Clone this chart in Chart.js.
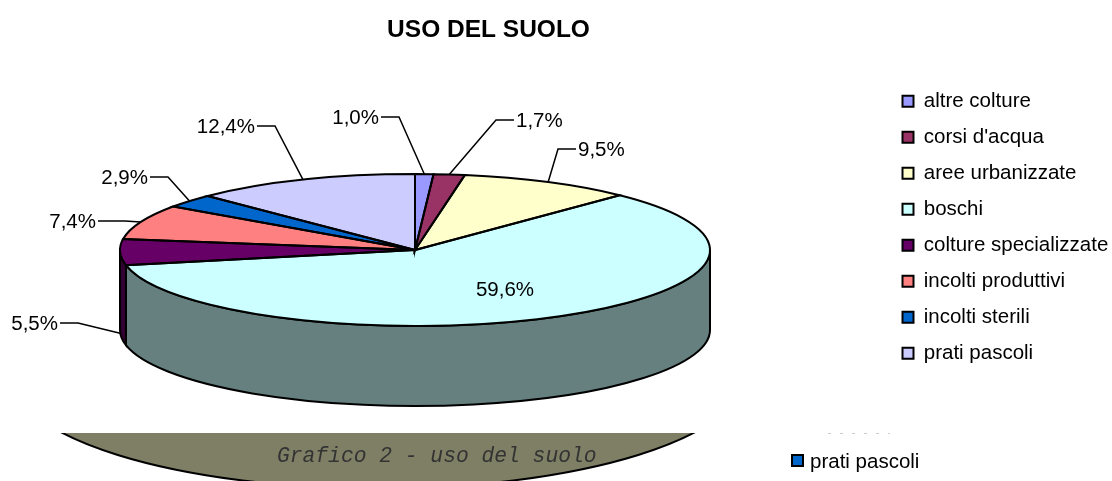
<!DOCTYPE html>
<html lang="it">
<head>
    <meta charset="UTF-8">
    <title>Uso del suolo</title>
    <script src="https://cdn.jsdelivr.net/npm/chart.js"></script>
    <style>
        html, body { margin: 0; padding: 0; background: white; }
        canvas { display: block; }
    </style>
</head>
<body>
    <canvas id="pieChart" width="1112" height="481"></canvas>
    <script>
        const categories = ["altre colture", "corsi d'acqua", "aree urbanizzate", "boschi", "colture specializzate", "incolti produttivi", "incolti sterili", "prati pascoli"];
        const percentages = [1.0, 1.7, 9.5, 59.6, 5.5, 7.4, 2.9, 12.4];
        const sliceColors = ["#9999ff", "#993366", "#ffffcc", "#ccffff", "#660066", "#ff8080", "#0066cc", "#ccccff"];
        const wallColors = ["#4d4d80", "#4d1a33", "#808066", "#668080", "#330033", "#804040", "#003366", "#666680"];

        // where each percentage label sits: elbow of the leader line, and text side
        const labelLayout = [
            { elbow: [399, 117], side: "left" },
            { elbow: [496, 120], side: "right" },
            { elbow: [558, 149], side: "right" },
            { center: [505, 289] },
            { elbow: [78, 323], side: "left", drop: 81 },
            { elbow: [125, 221], side: "left", stub: 27 },
            { elbow: [168, 177], side: "left" },
            { elbow: [275, 126], side: "left" },
        ];

        const FONT = "'Liberation Sans', Arial, sans-serif";
        const CENTER_X = 415, CENTER_Y = 250;
        const RADIUS = 295, SQUASH = 76 / 295, DEPTH = 80;

        const formatPct = (v) => v.toFixed(1).replace(".", ",") + "%";

        // lays the boxes out where the reference has them
        const placement = {
            id: "placement",
            afterLayout(chart) {
                const area = chart.chartArea;
                area.left = CENTER_X - 300;
                area.right = CENTER_X + 300;
                area.top = CENTER_Y - 100;
                area.bottom = CENTER_Y + 100;
                area.width = 600;
                area.height = 200;

                chart.titleBlock.left = 0;
                chart.titleBlock.right = 977;
                chart.titleBlock.top = 16;

                chart.legend.left = 887;
                chart.legend.top = 75.5;
            },
        };

        const pie3d = {
            id: "pie3d",
            beforeDatasetsDraw(chart) {
                const ctx = chart.ctx;
                const arcs = chart.getDatasetMeta(0).data;

                // leftover picture strip under the chart
                ctx.save();
                ctx.beginPath();
                ctx.rect(0, 433, 1112, 48);
                ctx.clip();
                ctx.beginPath();
                ctx.ellipse(378, 374, 368, 114.5, 0, 0, Math.PI * 2);
                ctx.fillStyle = "#7f7f66";
                ctx.fill();
                ctx.lineWidth = 2;
                ctx.strokeStyle = "#000";
                ctx.stroke();
                ctx.restore();

                ctx.fillStyle = "#333";
                ctx.font = "italic 21.3px 'Liberation Mono', monospace";
                ctx.textAlign = "left";
                ctx.textBaseline = "alphabetic";
                ctx.fillText("Grafico 2 - uso del suolo", 277, 462);

                ctx.fillStyle = "#0066cc";
                ctx.strokeStyle = "#000";
                ctx.lineWidth = 2;
                ctx.fillRect(792, 455, 11, 11);
                ctx.strokeRect(792, 455, 11, 11);
                ctx.fillStyle = "#000";
                ctx.font = "20.5px " + FONT;
                ctx.fillText(categories[7], 810, 468);

                ctx.save();
                ctx.strokeStyle = "#ccc";
                ctx.lineWidth = 1;
                ctx.setLineDash([3, 9]);
                ctx.beginPath();
                ctx.moveTo(828, 433.5);
                ctx.lineTo(890, 433.5);
                ctx.stroke();
                ctx.restore();

                // side wall, only the front half of the rim shows
                arcs.forEach((arc, i) => {
                    const { x, y, startAngle, endAngle, outerRadius } = arc;
                    const a0 = Math.max(startAngle, 0);
                    const a1 = Math.min(endAngle, Math.PI);
                    if (a1 <= a0) return;
                    const ry = outerRadius * SQUASH;
                    ctx.beginPath();
                    ctx.ellipse(x, y, outerRadius, ry, 0, a0, a1);
                    ctx.ellipse(x, y + DEPTH, outerRadius, ry, 0, a1, a0, true);
                    ctx.closePath();
                    ctx.fillStyle = wallColors[i];
                    ctx.fill();
                    ctx.lineWidth = 2;
                    ctx.strokeStyle = "#000";
                    ctx.stroke();
                });

                // squash the round pie into the top ellipse
                ctx.save();
                ctx.translate(0, CENTER_Y);
                ctx.scale(1, SQUASH);
                ctx.translate(0, -CENTER_Y);
            },
            afterDatasetsDraw(chart) {
                const ctx = chart.ctx;
                ctx.restore();
                const arcs = chart.getDatasetMeta(0).data;

                arcs.forEach((arc) => {
                    const { x, y, startAngle, endAngle, outerRadius } = arc;
                    ctx.beginPath();
                    ctx.moveTo(x, y);
                    ctx.ellipse(x, y, outerRadius, outerRadius * SQUASH, 0, startAngle, endAngle);
                    ctx.closePath();
                    ctx.lineWidth = 2;
                    ctx.strokeStyle = "#000";
                    ctx.stroke();
                });

                ctx.font = "20.5px " + FONT;
                ctx.textBaseline = "middle";
                ctx.fillStyle = "#000";
                arcs.forEach((arc, i) => {
                    const layout = labelLayout[i];
                    const text = formatPct(percentages[i]);
                    if (layout.center) {
                        ctx.textAlign = "center";
                        ctx.fillText(text, layout.center[0], layout.center[1] + 1);
                        return;
                    }
                    const mid = (arc.startAngle + arc.endAngle) / 2;
                    const rimX = arc.x + Math.cos(mid) * arc.outerRadius;
                    const rimY = arc.y + Math.sin(mid) * arc.outerRadius * SQUASH + (layout.drop || 0);
                    const [ex, ey] = layout.elbow;
                    const dir = layout.side === "left" ? -1 : 1;
                    const stub = layout.stub || 18;

                    ctx.beginPath();
                    ctx.moveTo(rimX, rimY);
                    ctx.lineTo(ex, ey);
                    ctx.lineTo(ex + dir * stub, ey);
                    ctx.lineWidth = 1.5;
                    ctx.strokeStyle = "#000";
                    ctx.stroke();

                    ctx.textAlign = layout.side === "left" ? "right" : "left";
                    ctx.fillText(text, ex + dir * (stub + 2), ey + 1);
                });
            },
        };

        new Chart(document.getElementById("pieChart").getContext("2d"), {
            type: "pie",
            data: {
                labels: categories,
                datasets: [{
                    data: percentages,
                    backgroundColor: sliceColors,
                    borderWidth: 0,
                    radius: RADIUS,
                }],
            },
            options: {
                responsive: false,
                animation: false,
                plugins: {
                    tooltip: { enabled: false },
                    title: {
                        display: true,
                        text: "USO DEL SUOLO",
                        color: "#000",
                        padding: 0,
                        font: { family: FONT, size: 24.5, weight: "bold" },
                    },
                    legend: {
                        position: "right",
                        align: "start",
                        labels: {
                            color: "#000",
                            boxWidth: 11,
                            boxHeight: 11,
                            padding: 15.5,
                            font: { family: FONT, size: 20.5 },
                            generateLabels(chart) {
                                return Chart.overrides.pie.plugins.legend.labels.generateLabels(chart).map((item) => {
                                    item.strokeStyle = "#000";
                                    item.lineWidth = 2;
                                    return item;
                                });
                            },
                        },
                    },
                },
            },
            plugins: [placement, pie3d],
        });
    </script>
</body>
</html>
